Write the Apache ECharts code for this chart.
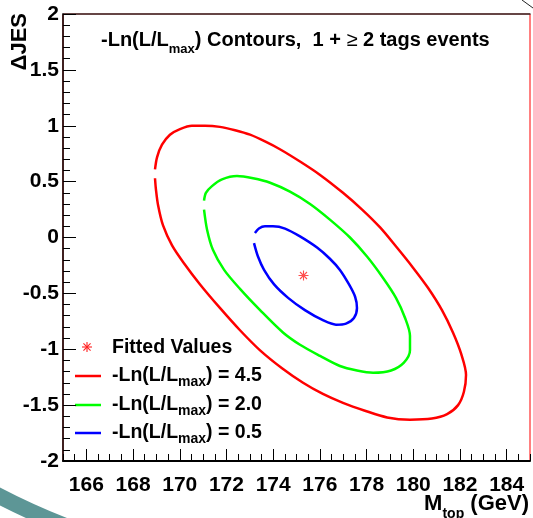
<!DOCTYPE html>
<html>
<head>
<meta charset="utf-8">
<script src="https://cdn.jsdelivr.net/npm/echarts@6/dist/echarts.min.js"></script>
<style>
html, body { margin: 0; padding: 0; background: #ffffff; }
#chart { width: 533px; height: 518px; }
</style>
</head>
<body>
<div id="chart"></div>
<script>
// -ln(L/Lmax) contours in the (M_top [GeV], ΔJES) plane, each point is [M_top, ΔJES].
// Every contour is open at its left edge, where the line starts and stops.
const contour45 = [
  [168.94, 0.61], [169.03, 0.72], [169.24, 0.83], [169.58, 0.92], [170.01, 0.97],
  [170.52, 1.00], [171.08, 1.00], [171.72, 0.99], [172.37, 0.96], [173.01, 0.92],
  [173.65, 0.86], [174.29, 0.79], [175.15, 0.68], [176.01, 0.56], [176.99, 0.40],
  [177.81, 0.25], [178.58, 0.09], [179.30, -0.09], [179.99, -0.27], [180.63, -0.45],
  [181.23, -0.65], [181.70, -0.85], [182.05, -1.04], [182.26, -1.23], [182.17, -1.38],
  [181.92, -1.50], [181.45, -1.58], [180.80, -1.62], [179.86, -1.63], [178.88, -1.61],
  [177.93, -1.55], [176.99, -1.48], [176.13, -1.40], [175.28, -1.30], [174.38, -1.17],
  [173.44, -1.01], [172.58, -0.83], [171.72, -0.63], [170.87, -0.42], [170.18, -0.23],
  [169.67, -0.07], [169.28, 0.11], [169.07, 0.29], [168.98, 0.43], [168.94, 0.53]
];
const contour20 = [
  [171.04, 0.33], [171.12, 0.40], [171.38, 0.46], [171.81, 0.52], [172.45, 0.55],
  [173.14, 0.53], [173.87, 0.49], [174.72, 0.41], [175.58, 0.30], [176.43, 0.16],
  [177.29, 0.00], [178.02, -0.17], [178.70, -0.36], [179.26, -0.54], [179.65, -0.72],
  [179.86, -0.88], [179.86, -1.01], [179.60, -1.12], [179.05, -1.19], [178.28, -1.21],
  [177.59, -1.19], [176.86, -1.15], [176.01, -1.06], [175.15, -0.96], [174.42, -0.85],
  [173.44, -0.65], [172.58, -0.46], [171.90, -0.29], [171.42, -0.11], [171.17, 0.07],
  [171.04, 0.25]
];
const contour05 = [
  [173.22, 0.04], [173.39, 0.08], [173.65, 0.10], [173.99, 0.10], [174.51, 0.08],
  [175.15, 0.01], [175.88, -0.09], [176.43, -0.19], [176.86, -0.29], [177.25, -0.42],
  [177.51, -0.53], [177.59, -0.63], [177.46, -0.72], [177.12, -0.77], [176.69, -0.78],
  [176.13, -0.74], [175.36, -0.65], [174.64, -0.54], [174.04, -0.42], [173.61, -0.29],
  [173.35, -0.17], [173.18, -0.05]
];
const fittedPoint = [[175.3, -0.34]];

const contourLevels = ['4.5', '2.0', '0.5'];
const contourColors = ['#ff0000', '#00ff00', '#0000ff'];
const contourData = [contour45, contour20, contour05];

const xRange = [165, 185];
const yRange = [-2, 2];
const xTickValues = [166, 168, 170, 172, 174, 176, 178, 180, 182, 184];

const FONT = "'Liberation Sans', Arial, Helvetica, sans-serif";
const INK = '#000000';

// small eight-armed asterisk, as used for the fitted point
function asterisk(cx, cy, r) {
  const d = r * 0.71;
  const seg = (x1, y1, x2, y2) => ({
    type: 'line', silent: true,
    shape: { x1: x1, y1: y1, x2: x2, y2: y2 },
    style: { stroke: '#ff2020', lineWidth: 1.1 }
  });
  return {
    type: 'group', children: [
      seg(cx - r, cy, cx + r, cy), seg(cx, cy - r, cx, cy + r),
      seg(cx - d, cy - d, cx + d, cy + d), seg(cx - d, cy + d, cx + d, cy - d)
    ]
  };
}

function richStyles(main, sub, subDrop) {
  return {
    a: { fontSize: main, fontWeight: 'bold', fontFamily: FONT, fill: INK, verticalAlign: 'top' },
    s: { fontSize: sub, fontWeight: 'bold', fontFamily: FONT, fill: INK, verticalAlign: 'top', padding: [subDrop, 0, 0, 0] },
    g: { fontSize: main, fontWeight: 'normal', fontFamily: FONT, fill: INK, verticalAlign: 'top' }
  };
}

const chart = echarts.init(document.getElementById('chart'), null, { renderer: 'canvas' });

const legendRowsY = [366, 395, 423];
const legendLineY = [376, 405, 433];

const graphics = [
  // slide decoration arcs
  { type: 'arc', silent: true, z: -10,
    shape: { cx: 316, cy: -117, r: 690, startAngle: 104 * Math.PI / 180, endAngle: 126 * Math.PI / 180 },
    style: { stroke: '#5d9696', lineWidth: 16, fill: null } },
  { type: 'line', silent: true, shape: { x1: 522, y1: 0, x2: 533, y2: 8 }, style: { stroke: '#222', lineWidth: 1 } },
  // plot title
  { type: 'text', silent: true, x: 101, y: 30,
    style: {
      text: '{a|-Ln(L/L}{s|max}{a|) Contours,  1 + }{g|\u2265}{a| 2 tags events}',
      rich: richStyles(20, 13, 13.4), align: 'left', verticalAlign: 'top'
    } },
  // axis titles
  { type: 'text', silent: true, x: 20, y: 13, rotation: Math.PI / 2,
    style: { text: '\u0394JES', fontSize: 22, fontWeight: 'bold', fontFamily: FONT, fill: INK, align: 'right', verticalAlign: 'middle' } },
  { type: 'text', silent: true, x: 529, y: 493,
    style: { text: '{a|M}{s|top}{a| (GeV)}', rich: richStyles(22, 14, 14.5), align: 'right', verticalAlign: 'top' } },
  // legend
  asterisk(87, 347, 5),
  { type: 'text', silent: true, x: 112, y: 347.5,
    style: { text: 'Fitted Values', fontSize: 19.5, fontWeight: 'bold', fontFamily: FONT, fill: INK, align: 'left', verticalAlign: 'middle' } }
];
contourLevels.forEach((lvl, i) => {
  graphics.push({ type: 'line', silent: true,
    shape: { x1: 75, y1: legendLineY[i], x2: 101, y2: legendLineY[i] },
    style: { stroke: contourColors[i], lineWidth: 2.5 } });
  graphics.push({ type: 'text', silent: true, x: 112, y: legendRowsY[i],
    style: { text: '{a|-Ln(L/L}{s|max}{a|) = ' + lvl + '}', rich: richStyles(19.5, 14, 9.5), align: 'left', verticalAlign: 'top' } });
});

const tickLabel = { fontSize: 21, fontWeight: 'bold', fontFamily: FONT, color: INK };

const series = contourData.map((pts, i) => ({
  type: 'line',
  name: '-Ln(L/Lmax) = ' + contourLevels[i],
  data: pts,
  smooth: 0.3,
  symbol: 'none',
  showSymbol: false,
  clip: true,
  lineStyle: { color: contourColors[i], width: 2.5 },
  z: 3
}));
series.push({
  type: 'scatter',
  name: 'Fitted Values',
  data: fittedPoint,
  symbol: 'path://M5,0L5,10M0,5L10,5M1.5,1.5L8.5,8.5M1.5,8.5L8.5,1.5',
  symbolSize: 10,
  itemStyle: { color: 'rgba(0,0,0,0)', borderColor: '#ff2020', borderWidth: 1.1 },
  z: 4
});

chart.setOption({
  animation: false,
  backgroundColor: '#ffffff',
  grid: {
    left: 63, top: 14, width: 467, height: 447,
    show: true, borderColor: '#ff0000', borderWidth: 1, backgroundColor: 'transparent',
    containLabel: false, outerBoundsMode: 'none'
  },
  xAxis: [
    {
      type: 'value', min: xRange[0], max: xRange[1], position: 'bottom',
      axisLine: { show: true, onZero: false, lineStyle: { color: INK, width: 2 } },
      axisTick: { show: true, inside: true, length: 12, customValues: xTickValues, lineStyle: { color: INK, width: 1 } },
      axisLabel: Object.assign({ show: true, margin: 14, customValues: xTickValues }, tickLabel),
      splitLine: { show: false }
    },
    {
      type: 'value', min: xRange[0], max: xRange[1], interval: 0.5, position: 'bottom',
      axisLine: { show: false, onZero: false },
      axisTick: { show: true, inside: true, length: 7, lineStyle: { color: INK, width: 1 } },
      axisLabel: { show: false },
      splitLine: { show: false }
    },
    {
      type: 'value', min: xRange[0], max: xRange[1], position: 'top',
      axisLine: { show: true, onZero: false, lineStyle: { color: '#333333', width: 1.5 } },
      axisTick: { show: false }, axisLabel: { show: false }, splitLine: { show: false }
    }
  ],
  yAxis: [{
    type: 'value', min: yRange[0], max: yRange[1], interval: 0.5, position: 'left',
    axisLine: { show: true, onZero: false, lineStyle: { color: INK, width: 1.5 } },
    axisTick: { show: true, inside: true, length: 13, lineStyle: { color: INK, width: 1 } },
    minorTick: { show: true, splitNumber: 5, length: 7, lineStyle: { color: INK, width: 1 } },
    axisLabel: Object.assign({ show: true, margin: 4, padding: [6, 0, 0, 0], showMinLabel: true, showMaxLabel: true }, tickLabel),
    splitLine: { show: false }, minorSplitLine: { show: false }
  }],
  graphic: graphics,
  series: series
});
</script>
</body>
</html>
